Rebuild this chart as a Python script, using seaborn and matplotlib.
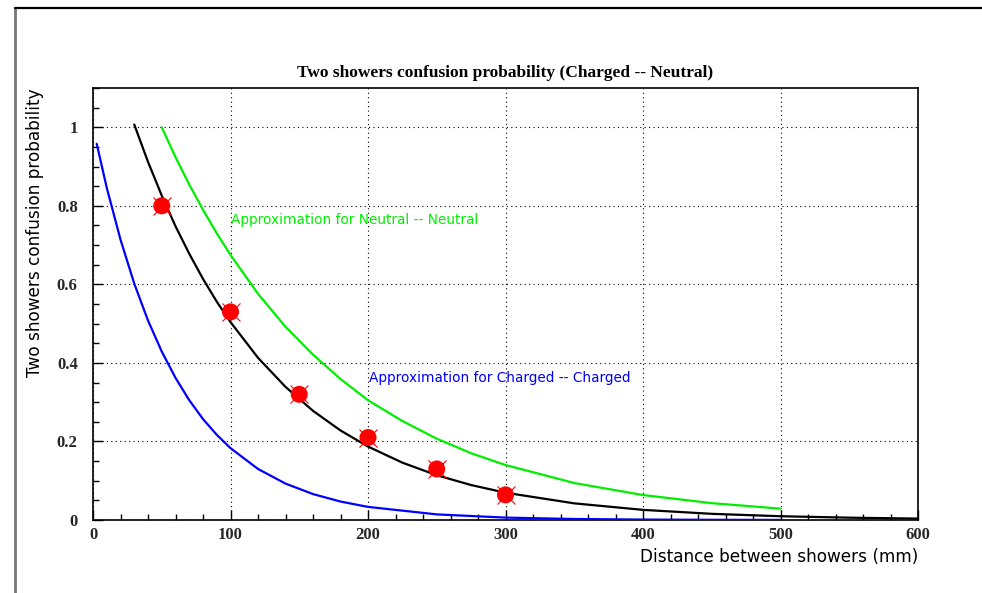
import numpy as np
import pandas as pd
import matplotlib
matplotlib.use("Agg")
import matplotlib.pyplot as plt
from matplotlib.lines import Line2D
from matplotlib.ticker import MultipleLocator, FixedLocator
import seaborn as sns

# ---- data ----
black_x = [30, 40, 50, 60, 70, 80, 90, 100, 120, 140, 160, 180, 200, 225, 250,
           275, 300, 350, 400, 450, 500, 550, 600]
black_y = [1.007, 0.912, 0.826, 0.748, 0.678, 0.614, 0.556, 0.504, 0.413, 0.339,
           0.278, 0.228, 0.187, 0.146, 0.114, 0.089, 0.0695, 0.0424, 0.0258,
           0.0157, 0.0096, 0.0059, 0.0036]

green_x = [50, 60, 70, 80, 90, 100, 120, 140, 160, 180, 200, 225, 250, 275, 300,
           350, 400, 450, 500]
green_y = [1.0, 0.924, 0.854, 0.790, 0.730, 0.675, 0.576, 0.492, 0.421, 0.359,
           0.305, 0.252, 0.207, 0.170, 0.140, 0.0942, 0.0636, 0.0429, 0.0289]

blue_x = [2.7, 10, 20, 30, 40, 50, 60, 70, 80, 90, 100, 120, 140, 160, 180, 200,
          250, 300, 350, 400, 450, 500]
blue_y = [0.958, 0.846, 0.714, 0.602, 0.508, 0.429, 0.362, 0.305, 0.257, 0.217,
          0.183, 0.130, 0.0927, 0.0660, 0.0470, 0.0334, 0.0143, 0.0061, 0.0026,
          0.0011, 0.0005, 0.0002]

pts_x = [50, 100, 150, 200, 250, 300]
pts_y = [0.80, 0.53, 0.32, 0.21, 0.13, 0.064]

x_ticks = [0, 100, 200, 300, 400, 500, 600]
y_ticks = [0, 0.2, 0.4, 0.6, 0.8, 1.0]
y_tick_labels = ["0", "0.2", "0.4", "0.6", "0.8", "1"]

title = "Two showers confusion probability (Charged -- Neutral)"
xlabel = "Distance between showers (mm)"
ylabel = "Two showers confusion probability"
label_neutral = "Approximation for Neutral -- Neutral"
label_charged = "Approximation for Charged -- Charged"

# ---- plotting ----
sns.set_theme(style="white")
plt.rcParams['font.family'] = ['DejaVu Sans']

W, H = 982, 593
fig = plt.figure(figsize=(W / 100, H / 100), dpi=100)
ax = fig.add_axes([93 / W, 1 - 520 / H, (918 - 93) / W, (520 - 88) / H])

blue_df = pd.DataFrame({"x": blue_x, "y": blue_y})
black_df = pd.DataFrame({"x": black_x, "y": black_y})
green_df = pd.DataFrame({"x": green_x, "y": green_y})
pts_df = pd.DataFrame({"x": pts_x, "y": pts_y})

sns.lineplot(data=blue_df, x="x", y="y", ax=ax, color="#0000ff", lw=1.6,
             sort=False, estimator=None, zorder=3)
sns.lineplot(data=green_df, x="x", y="y", ax=ax, color="#00ee00", lw=1.6,
             sort=False, estimator=None, zorder=3)
sns.lineplot(data=black_df, x="x", y="y", ax=ax, color="black", lw=1.6,
             sort=False, estimator=None, zorder=4)

# red markers: x-cross behind a filled circle
ax.plot(pts_x, pts_y, linestyle="none", marker="x", color="#ff0000",
        markersize=13.5, markeredgewidth=0.8, zorder=5)
sns.scatterplot(data=pts_df, x="x", y="y", ax=ax, color="#ff0000", s=150,
                edgecolor="none", linewidth=0, zorder=6)

ax.set_xlim(0, 600)
ax.set_ylim(0, 1.1)

ax.xaxis.set_major_locator(FixedLocator(x_ticks))
ax.xaxis.set_minor_locator(MultipleLocator(20))
ax.yaxis.set_major_locator(FixedLocator(y_ticks))
ax.yaxis.set_minor_locator(MultipleLocator(0.05))
ax.set_xticklabels([str(v) for v in x_ticks])
ax.set_yticklabels(y_tick_labels)

for lab in ax.get_xticklabels() + ax.get_yticklabels():
    lab.set_fontfamily("Liberation Serif")
    lab.set_fontweight("bold")
    lab.set_fontsize(12)

ax.tick_params(axis="both", which="major", direction="in", length=7, width=1,
               color="black", bottom=True, left=True, top=False, right=False)
ax.tick_params(axis="both", which="minor", direction="in", length=4, width=1,
               color="black", bottom=True, left=True, top=False, right=False)
ax.tick_params(axis="x", which="major", pad=5)
ax.tick_params(axis="y", which="major", pad=11)

ax.grid(True, which="major", color="black", linestyle=(0, (1, 3)), lw=0.8)
for s in ax.spines.values():
    s.set_color("black")
    s.set_linewidth(1.2)

ax.set_xlabel("")
ax.set_ylabel("")
fig.text(918 / W, 1 - 557 / H, xlabel, ha="right", va="center",
         fontsize=12.2, color="black")
fig.text(35 / W, 1 - 88 / H, ylabel, ha="center", va="top", rotation=90,
         fontsize=12.2, color="black")
fig.text(505.5 / W, 1 - 73 / H, title, ha="center", va="center",
         fontfamily="Liberation Serif", fontweight="bold", fontsize=12.5,
         color="black")

ax.text(100.5, 0.763, label_neutral, color="#00ee00", fontsize=9.8,
        ha="left", va="center", zorder=7)
ax.text(200.5, 0.361, label_charged, color="#0000ff", fontsize=9.8,
        ha="left", va="center", zorder=7)

# canvas frame lines (left grey, top black)
fig.add_artist(Line2D([15 / W, 15 / W], [0, 1 - 8 / H], color="#777777", lw=2,
                      transform=fig.transFigure))
fig.add_artist(Line2D([15 / W, 1], [1 - 8 / H, 1 - 8 / H], color="black", lw=1.6,
                      transform=fig.transFigure))

fig.savefig("out.png", dpi=100)
